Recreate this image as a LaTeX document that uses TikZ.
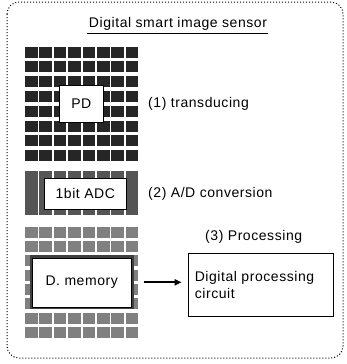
\documentclass[tikz,border=0pt]{standalone}
\usepackage{fontspec}
\setmainfont{Liberation Sans}[LetterSpace=4]
\usetikzlibrary{arrows.meta}
\definecolor{celldark}{RGB}{38,38,38}
\definecolor{cellmid}{RGB}{85,85,85}
\definecolor{celllight}{RGB}{128,128,128}
\definecolor{memedge}{RGB}{64,64,64}
\tikzset{
  lbl/.style={font=\fontsize{14}{17}\selectfont, inner sep=0pt},
  whitebox/.style={draw=black, fill=white, line width=0.8pt, inner sep=0pt},
}
\begin{document}
\begin{tikzpicture}[x=1pt, y=-1pt]
\useasboundingbox (0,0) rectangle (346,364);
% outer dotted frame
\draw[dotted, line width=1pt, rounded corners=12pt] (7,2) rectangle (343,358);
% title
\node[lbl] (title) at (178,24) {Digital smart image sensor};
\draw[line width=0.8pt] (87,33) -- (268,33);
% photodiode array
\foreach \c in {0,...,7}
  \foreach \r in {0,...,7}
    \fill[celldark] ({25+14.4*\c},{46.7+14.76*\r}) rectangle ++(12.6,11);
\node[whitebox, minimum width=44pt, minimum height=37.7pt] (pd) at (81.3,103.8) {};
\node[lbl] at (pd) {PD};
\node[lbl, anchor=west] (t1) at (148,103.5) {(1) transducing};
% ADC columns
\foreach \c in {0,...,7}
  \fill[cellmid] ({25+14.4*\c},170.7) rectangle ++(12.6,44.3);
\node[whitebox, minimum width=82.7pt, minimum height=31pt] (adc) at (85.3,193.8) {};
\node[lbl] at (adc) {1bit ADC};
\node[lbl, anchor=west] (t2) at (148,194) {(2) A/D conversion};
% memory array
\foreach \c in {0,...,7}
  \foreach \r in {0,...,7}
    \fill[celllight] ({25+14.4*\c},{226.7+14.3*\r}) rectangle ++(12.6,11);
\fill[memedge] (29.7,255.3) rectangle (133.7,309.3);
\node[draw=black, fill=white, line width=0.6pt, inner sep=0pt, minimum width=99pt, minimum height=49pt] (mem) at (81.7,282.3) {};
\node[lbl] at (mem) {D. memory};
\node[lbl, anchor=west] (t3) at (205,237) {(3) Processing};
% processing circuit
\node[whitebox, minimum width=145pt, minimum height=63pt] (dpc) at (260.5,284.5) {};
\node[lbl, anchor=west, align=left] at ([xshift=7pt]dpc.west) {Digital processing\\circuit};
% data path
\draw[line width=2.2pt, -{Triangle[length=7pt, width=6pt]}] ([xshift=12pt]mem.east) -- ([xshift=-6pt]dpc.west |- mem.east);
\end{tikzpicture}
\end{document}
